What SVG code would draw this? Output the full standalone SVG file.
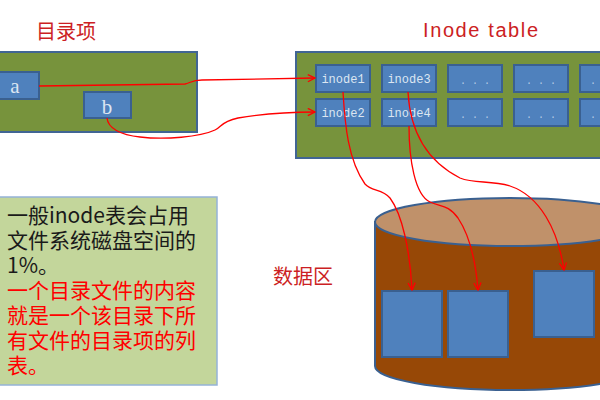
<svg xmlns="http://www.w3.org/2000/svg" width="600" height="400" viewBox="0 0 600 400">
<defs>
<style>
.panel{fill:#77933c;stroke:#416594;stroke-width:2}
.box{fill:#4f81bd;stroke:#3a6090;stroke-width:2}
.blk{fill:#4f81bd;stroke:#3a6090;stroke-width:2}
.lbl{font-family:"Liberation Mono",monospace;font-size:12px;fill:#dce6f2;text-anchor:middle}
.dots{font-family:"Liberation Mono",monospace;font-size:10px;fill:#b9cde5;text-anchor:middle}
.ab{font-family:"Liberation Serif",serif;font-size:21px;fill:#dce6f2;text-anchor:middle}
.title{font-family:"Liberation Sans","Noto Sans CJK SC",sans-serif;font-size:20px;fill:#cc1f24}
.note{font-family:"Noto Sans CJK SC",sans-serif;font-size:21px}
.conn{fill:none;stroke:#ff0000;stroke-width:1.3}
</style>
<marker id="arr" viewBox="0 0 10 10" refX="9" refY="5" markerWidth="9" markerHeight="9" markerUnits="userSpaceOnUse" orient="auto">
<path d="M1,1 L9,5 L1,9" fill="none" stroke="#ff0000" stroke-width="1.5"/>
</marker>
</defs>
<rect width="600" height="400" fill="#ffffff"/>

<text id="title-dir" class="title" x="36" y="39">目录项</text>
<text id="title-inode" class="title" x="423" y="37" font-size="22" textLength="115">Inode table</text>
<text id="title-data" class="title" x="273" y="284">数据区</text>

<g id="dir-panel">
<rect class="panel" x="-2" y="52" width="199" height="80"/>
</g>
<g id="entry-a">
<rect class="box" x="-2" y="72" width="41" height="27"/>
<text class="ab" x="15" y="93">a</text>
</g>
<g id="entry-b">
<rect class="box" x="84" y="92" width="47" height="26"/>
<text class="ab" x="107" y="114">b</text>
</g>

<g id="inode-panel">
<rect class="panel" x="296" y="52" width="310" height="106"/>
</g>
<g id="inode1"><rect class="box" x="316" y="65" width="54" height="27"/><text class="lbl" x="343" y="83">inode1</text></g>
<g id="inode2"><rect class="box" x="316" y="99" width="54" height="27"/><text class="lbl" x="343" y="117">inode2</text></g>
<g id="inode3"><rect class="box" x="382" y="65" width="54" height="27"/><text class="lbl" x="409" y="83">inode3</text></g>
<g id="inode4"><rect class="box" x="382" y="99" width="54" height="27"/><text class="lbl" x="409" y="117">inode4</text></g>
<g id="inode5"><rect class="box" x="448" y="65" width="54" height="27"/><text class="dots" x="475" y="84">. . .</text></g>
<g id="inode6"><rect class="box" x="448" y="99" width="54" height="27"/><text class="dots" x="475" y="118">. . .</text></g>
<g id="inode7"><rect class="box" x="514" y="65" width="54" height="27"/><text class="dots" x="541" y="84">. . .</text></g>
<g id="inode8"><rect class="box" x="514" y="99" width="54" height="27"/><text class="dots" x="541" y="118">. . .</text></g>
<g id="inode9"><rect class="box" x="580" y="65" width="54" height="27"/><text class="dots" x="593" y="84">.</text></g>
<g id="inode10"><rect class="box" x="580" y="99" width="54" height="27"/><text class="dots" x="593" y="118">.</text></g>

<g id="note">
<rect x="-2" y="197" width="219" height="188" fill="#c3d69b" stroke="#95b3d7" stroke-width="1.5"/>
<text class="note" x="7" fill="#1a1a1a"><tspan x="7" y="223">一般inode表会占用</tspan><tspan x="7" y="248">文件系统磁盘空间的</tspan><tspan x="7" y="273">1%。</tspan></text>
<text class="note" x="7" fill="#ff0000"><tspan x="7" y="298">一个目录文件的内容</tspan><tspan x="7" y="323">就是一个该目录下所</tspan><tspan x="7" y="348">有文件的目录项的列</tspan><tspan x="7" y="373">表。</tspan></text>
</g>

<g id="data-area">
<path d="M375,222 L375,366 A135,24 0 0 0 645,366 L645,222 Z" fill="#974806" stroke="#3a6090" stroke-width="2"/>
<ellipse cx="510" cy="222" rx="135" ry="24" fill="#c0916a" stroke="#3a6090" stroke-width="2"/>
</g>
<g id="block1"><rect class="blk" x="382" y="291" width="60" height="66"/></g>
<g id="block2"><rect class="blk" x="448" y="291" width="60" height="66"/></g>
<g id="block3"><rect class="blk" x="534" y="271" width="60" height="66"/></g>

<g id="connectors">
<path class="conn" marker-end="url(#arr)" d="M39,86 L185,84 C190,83 192,80 202,80 L315,78"/>
<path class="conn" marker-end="url(#arr)" d="M107,118 C108,128 120,135 140,137 C165,140 200,137 215,130 C222,127 220,122 238,118 C262,114 290,112 315,112"/>
<path class="conn" marker-end="url(#arr)" d="M343,92 C345,125 348,160 365,184 C372,192 382,188 390,198 C402,214 410,250 412,290"/>
<path class="conn" marker-end="url(#arr)" d="M409,126 C409,160 415,195 430,202 C440,207 448,204 458,218 C470,236 476,265 478,290"/>
<path class="conn" marker-end="url(#arr)" d="M408,92 C410,130 425,160 460,178 C475,184 490,180 510,186 C540,196 558,230 564,270"/>
</g>
</svg>
